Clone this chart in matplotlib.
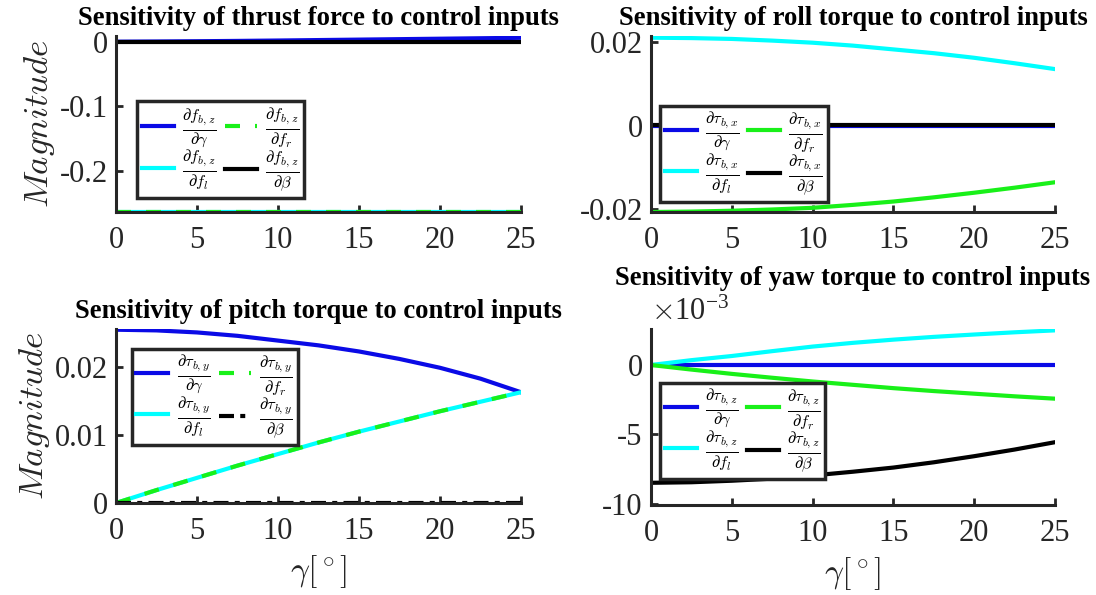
import matplotlib
matplotlib.use("Agg")
import matplotlib.pyplot as plt
from matplotlib.ticker import FuncFormatter

plt.rcParams['font.family'] = ['Liberation Serif', 'DejaVu Serif']
plt.rcParams['mathtext.fontset'] = 'cm'
plt.rcParams['axes.unicode_minus'] = False

# gamma in degrees
gamma = [0, 2.5, 5, 7.5, 10, 12.5, 15, 17.5, 20, 22.5, 25]

# thrust force sensitivities
fz_gamma = [0, 0.0003, 0.0007, 0.0012, 0.0018, 0.0025, 0.0032, 0.0039, 0.0046, 0.0053, 0.0060]
fz_fl = [-0.2635] * 11
fz_fr = [-0.2635] * 11
fz_beta = [0] * 11

# roll torque sensitivities
tx_gamma = [0] * 11
tx_fl = [0.0210, 0.0209, 0.0207, 0.0203, 0.0198, 0.0191, 0.0182, 0.0173, 0.0162, 0.0149, 0.0135]
tx_fr = [-0.0206, -0.0205, -0.0203, -0.0200, -0.0196, -0.0189, -0.0181, -0.0171, -0.0160, -0.0148, -0.0135]
tx_beta = [0.0002] * 11

# pitch torque sensitivities
ty_gamma = [0.0255, 0.0254, 0.0251, 0.0246, 0.0239, 0.0232, 0.0223, 0.0212, 0.0199, 0.0183, 0.0163]
ty_fl = [0, 0.0019, 0.0037, 0.0055, 0.0072, 0.0089, 0.0105, 0.0120, 0.0135, 0.0149, 0.0163]
ty_fr = [0, 0.0019, 0.0037, 0.0055, 0.0072, 0.0089, 0.0105, 0.0120, 0.0135, 0.0149, 0.0163]
ty_beta = [0] * 11

# yaw torque sensitivities
tz_gamma = [0] * 11
tz_fl = [0, 0.00035, 0.00065, 0.00100, 0.00133, 0.00160, 0.00183, 0.00203, 0.00220, 0.00236, 0.00250]
tz_fr = [0, -0.00033, -0.00064, -0.00092, -0.00119, -0.00143, -0.00167, -0.00188, -0.00207, -0.00226, -0.00243]
tz_beta = [-0.00850, -0.00846, -0.00835, -0.00820, -0.00797, -0.00770, -0.00740, -0.00702, -0.00658, -0.00610, -0.00557]

titles = ["Sensitivity of thrust force to control inputs",
          "Sensitivity of roll torque to control inputs",
          "Sensitivity of pitch torque to control inputs",
          "Sensitivity of yaw torque to control inputs"]

BLUE = "#0a0ae6"
CYAN = "#00ffff"
GREEN = "#19f019"
SPINE = "#262626"


def labels(num):
    return [r"$\frac{\partial %s}{\partial \gamma}$" % num,
            r"$\frac{\partial %s}{\partial f_l}$" % num,
            r"$\frac{\partial %s}{\partial f_r}$" % num,
            r"$\frac{\partial %s}{\partial \beta}$" % num]


fig = plt.figure(figsize=(10.96, 5.95), dpi=100)
ax1 = fig.add_axes([0.1058, 0.6437, 0.3695, 0.2958])
ax2 = fig.add_axes([0.594, 0.6437, 0.3686, 0.2958])
ax3 = fig.add_axes([0.1058, 0.1546, 0.3695, 0.2924])
ax4 = fig.add_axes([0.594, 0.1513, 0.3686, 0.2958])

lw = 3
dash = (3.6, 3.6)

# top-left
lab = labels(r"f_{b,z}")
ax1.plot(gamma, fz_gamma, color=BLUE, lw=lw, label=lab[0])
ax1.plot(gamma, fz_fl, color=CYAN, lw=lw, label=lab[1])
ax1.plot(gamma, fz_fr, color=GREEN, lw=lw, dashes=dash, label=lab[2])
ax1.plot(gamma, fz_beta, color="black", lw=lw, label=lab[3])
ax1.set_ylim(-0.2635, 0.0088)
ax1.set_yticks([-0.2, -0.1, 0])
leg_pos = {ax1: (0.053, 0.63)}

# top-right
lab = labels(r"\tau_{b,x}")
ax2.plot(gamma, tx_gamma, color=BLUE, lw=lw, label=lab[0])
ax2.plot(gamma, tx_fl, color=CYAN, lw=lw, label=lab[1])
ax2.plot(gamma, tx_fr, color=GREEN, lw=lw, label=lab[2])
ax2.plot(gamma, tx_beta, color="black", lw=lw, label=lab[3])
ax2.set_ylim(-0.0206, 0.0214)
ax2.set_yticks([-0.02, 0, 0.02])
leg_pos[ax2] = (0.022, 0.602)

# bottom-left
lab = labels(r"\tau_{b,y}")
ax3.plot(gamma, ty_gamma, color=BLUE, lw=lw, label=lab[0])
ax3.plot(gamma, ty_fl, color=CYAN, lw=lw, label=lab[1])
ax3.plot(gamma, ty_fr, color=GREEN, lw=lw, dashes=dash, label=lab[2])
ax3.plot(gamma, ty_beta, color="black", lw=lw, dashes=(3.6, 1.5, 1.2, 1.5), label=lab[3])
ax3.set_ylim(0, 0.0256)
ax3.set_yticks([0, 0.01, 0.02])
leg_pos[ax3] = (0.039, 0.885)

# bottom-right
lab = labels(r"\tau_{b,z}")
ax4.plot(gamma, tz_gamma, color=BLUE, lw=lw, label=lab[0])
ax4.plot(gamma, tz_fl, color=CYAN, lw=lw, label=lab[1])
ax4.plot(gamma, tz_fr, color=GREEN, lw=lw, label=lab[2])
ax4.plot(gamma, tz_beta, color="black", lw=lw, label=lab[3])
ax4.set_ylim(-0.0101, 0.0026)
ax4.set_yticks([-0.01, -0.005, 0])
ax4.yaxis.set_major_formatter(FuncFormatter(lambda v, p: "{:g}".format(round(v * 1e3, 6))))
ax4.text(0.0, 1.01, r"$\times\mathregular{10^{-3}}$", transform=ax4.transAxes,
         fontsize=22, ha="left", va="bottom", color="#262626")
leg_pos[ax4] = (0.022, 0.693)

for i, ax in enumerate([ax1, ax2, ax3, ax4]):
    ax.set_xlim(0, 25)
    ax.set_xticks([0, 5, 10, 15, 20, 25])
    if ax is not ax4:
        ax.yaxis.set_major_formatter(FuncFormatter(lambda v, p: "{:g}".format(round(v, 6))))
    for s in ["top", "right"]:
        ax.spines[s].set_visible(False)
    for s in ["left", "bottom"]:
        ax.spines[s].set_color(SPINE)
        ax.spines[s].set_linewidth(2.2)
    ax.tick_params(direction="in", length=5, width=2, color=SPINE, labelsize=22,
                   labelcolor="#262626", pad=6)
    ax.tick_params(axis="x", pad=10)
    ax.set_title(titles[i], fontsize=19.2, fontweight="bold",
                 pad=32 if ax is ax4 else 8)
    leg = ax.legend(ncol=2, loc="upper left", bbox_to_anchor=leg_pos[ax], borderaxespad=0,
                    fontsize=17, handlelength=1.35, handletextpad=0.35, columnspacing=0.35,
                    labelspacing=-0.05, borderpad=0.2, fancybox=False, framealpha=1)
    leg.get_frame().set_edgecolor(SPINE)
    leg.get_frame().set_linewidth(2.5)

for ax in [ax1, ax3]:
    ax.set_ylabel(r"$Magnitude$", fontsize=25, color="#262626", labelpad=2)
for ax in [ax3, ax4]:
    ax.set_xlabel(r"$\gamma[^\circ]$", fontsize=24, color="#262626", labelpad=5)

fig.savefig("out.png", dpi=100)
